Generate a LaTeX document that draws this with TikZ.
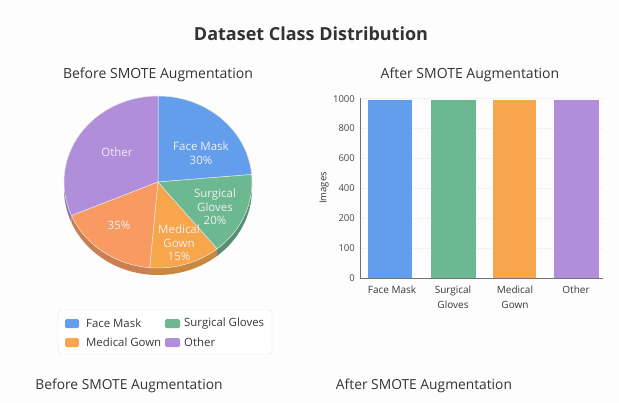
\documentclass[tikz,border=0pt]{standalone}
\usepackage{fontspec}
\setmainfont{Open Sans}
\begin{document}
\begin{tikzpicture}[x=1pt,y=-1pt,
  txt/.style={text=black!80, inner sep=0pt},
  plbl/.style={text=white!94!black, font=\fontsize{11.5}{13.5}\selectfont, align=center, inner sep=0pt},
  tick/.style={text=black!72, font=\fontsize{9.5}{12}\selectfont, anchor=east, inner sep=0pt},
  cat/.style={text=black!78, font=\fontsize{10}{14.5}\selectfont, align=center, anchor=north, inner sep=0pt},
  bar/.style={draw=none},
  grid/.style={draw=black!5, line width=0.5pt},
  leg/.style={text=black!78, font=\fontsize{11.4}{13}\selectfont, anchor=west, inner sep=0pt},
  sw/.style={rounded corners=1.5pt, draw=none},
  slice/.style={draw=white!90!black, line width=0.5pt},
  er/.style={x radius=94, y radius=86}
]
\definecolor{cblue}{HTML}{629EEC}
\definecolor{cgreen}{HTML}{6CB891}
\definecolor{corange}{HTML}{F7A64C}
\definecolor{csalmon}{HTML}{F89A62}
\definecolor{cpurple}{HTML}{B18ED9}
\definecolor{bgc}{HTML}{FDFDFD}
\fill[bgc] (0,0) rectangle (619,402);
\useasboundingbox (0,0) rectangle (619,402);

\node[txt, font=\bfseries\fontsize{18}{22}\selectfont] (title) at (311,34) {Dataset Class Distribution};
\node[txt, font=\fontsize{14}{16}\selectfont] (subL) at (158,75) {Before SMOTE Augmentation};
\node[txt, font=\fontsize{14}{16}\selectfont] (subR) at (470,75) {After SMOTE Augmentation};

% ---------- pie ----------
\begin{scope}[shift={(158,182)}, yscale=-1]
  % sides
  \fill[cpurple!80!black] (180:94 and 86) arc[start angle=180,end angle=203,er] -- ++(0,-7) arc[start angle=203,end angle=180,er] -- cycle;
  \fill[csalmon!82!black] (203:94 and 86) arc[start angle=203,end angle=265,er] -- ++(0,-7) arc[start angle=265,end angle=203,er] -- cycle;
  \fill[corange!82!black] (265:94 and 86) arc[start angle=265,end angle=309,er] -- ++(0,-7) arc[start angle=309,end angle=265,er] -- cycle;
  \fill[cgreen!78!black] (309:94 and 86) arc[start angle=309,end angle=360,er] -- ++(0,-7) arc[start angle=360,end angle=309,er] -- cycle;
  % top slices
  \filldraw[slice, fill=cblue] (0,0) -- (5:94 and 86) arc[start angle=5,end angle=90,er] -- cycle;
  \filldraw[slice, fill=cpurple] (0,0) -- (90:94 and 86) arc[start angle=90,end angle=203,er] -- cycle;
  \filldraw[slice, fill=csalmon] (0,0) -- (203:94 and 86) arc[start angle=203,end angle=265,er] -- cycle;
  \filldraw[slice, fill=corange] (0,0) -- (265:94 and 86) arc[start angle=265,end angle=309,er] -- cycle;
  \filldraw[slice, fill=cgreen] (0,0) -- (309:94 and 86) arc[start angle=309,end angle=365,er] -- cycle;
\end{scope}
\node[plbl] (lface) at (201,153) {Face Mask\\30\%};
\node[plbl] (lglove) at (215,207) {Surgical\\Gloves\\20\%};
\node[plbl] (lgown) at (179,243) {Medical\\Gown\\15\%};
\node[plbl] (lother) at (117,152) {Other};
\node[plbl] (lsal) at (119,225) {35\%};

% ---------- legend ----------
\node[draw=black!12, fill=white, rounded corners=3pt, minimum width=214pt, minimum height=44pt, inner sep=0pt] (legbox) at (165,332) {};
\fill[sw, cblue] (65,319) rectangle (79,328);
\node[leg] (lg1) at (86,323.5) {Face Mask};
\fill[sw, cgreen] (165,319) rectangle (180,328);
\node[leg] (lg2) at (184,323.5) {Surgical Gloves};
\fill[sw, corange] (65,338) rectangle (79,347);
\node[leg] (lg3) at (86,342.5) {Medical Gown};
\fill[sw, cpurple] (165,338) rectangle (180,347);
\node[leg] (lg4) at (184,342.5) {Other};

% ---------- bar chart ----------
\foreach \yy in {98,128,158,188,218,248} {\draw[grid] (360,\yy) -- (603,\yy);}
\coordinate (o) at (360,278);
\coordinate (ytop) at (360,98);
\coordinate (xend) at (603,278);
\fill[bar, cblue] (368,100) rectangle (412,278);
\fill[bar, cgreen] (431,100) rectangle (476,278);
\fill[bar, corange] (493,100) rectangle (536,278);
\fill[bar, cpurple] (554,100) rectangle (599,278);
\draw[black!55, line width=0.6pt] (ytop) -- (o) -- (xend);
\node[tick] (t0) at (355,278) {0};
\node[tick] (t1) at (355,248) {100};
\node[tick] (t2) at (355,218) {200};
\node[tick] (t3) at (355,188) {400};
\node[tick] (t4) at (355,158) {600};
\node[tick] (t5) at (355,128) {800};
\node[tick] (t6) at (355,99) {1000};
\node[txt, font=\fontsize{9.5}{12}\selectfont, rotate=90] (ylab) at (324,188) {Images};
\node[cat] (c1) at (392,286) {Face Mask};
\node[cat] (c2) at (453,286) {Surgical\\Gloves};
\node[cat] (c3) at (515,286) {Medical\\Gown};
\node[cat] (c4) at (576,286) {Other};

% ---------- captions ----------
\node[txt, font=\fontsize{13.8}{16}\selectfont] (capL) at (129,386) {Before SMOTE Augmentation};
\node[txt, font=\fontsize{13.8}{16}\selectfont] (capR) at (424,386) {After SMOTE Augmentation};
\end{tikzpicture}
\end{document}
